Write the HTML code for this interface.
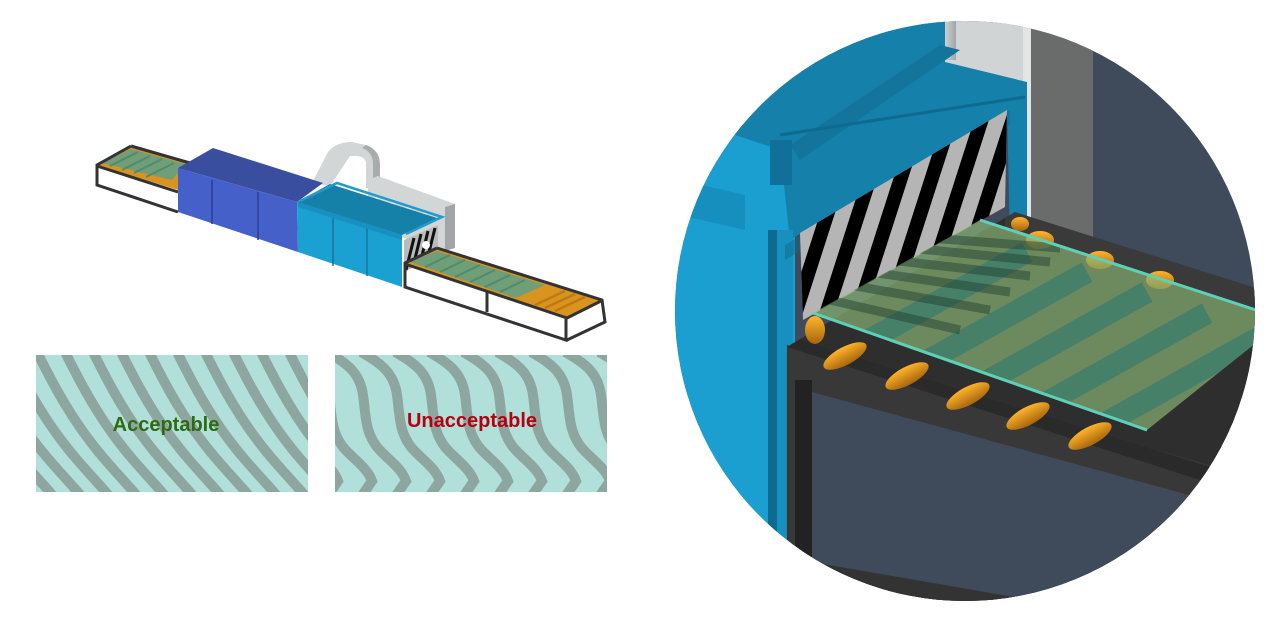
<!DOCTYPE html>
<html><head><meta charset="utf-8"><style>
html,body{margin:0;padding:0;background:#fff;width:1280px;height:628px;overflow:hidden}
svg{display:block}
</style></head><body>
<svg width="1280" height="628" viewBox="0 0 1280 628" xmlns="http://www.w3.org/2000/svg">
<defs>
<pattern id="pa" patternUnits="userSpaceOnUse" x="36" y="355" width="28" height="137">
<g fill="none" stroke="#8ea6a0" stroke-width="10">
<path id="sa" d="M0,-5 C15,25 28,50 48,78 S88,125 102,142"/>
<use href="#sa" x="-28"/><use href="#sa" x="-56"/><use href="#sa" x="-84"/><use href="#sa" x="-112"/><use href="#sa" x="28"/>
</g></pattern>
<pattern id="pu" patternUnits="userSpaceOnUse" x="335" y="355" width="34" height="137">
<g fill="none" stroke="#8ea6a0" stroke-width="10">
<path id="su" d="M-8,-3 C12,8 25,18 28,40 C31,62 30,76 42,92 C52,104 66,112 71,126 L60,142"/>
<use href="#su" x="-34"/><use href="#su" x="-68"/><use href="#su" x="34"/>
</g></pattern>
<clipPath id="cc"><circle cx="965" cy="311" r="290"/></clipPath>
<clipPath id="cs"><polygon points="800,233 1007,110 1005,207 803,320"/></clipPath>
<clipPath id="cg"><polygon points="813,313 980,220 1262,312 1262,338 1147,430"/></clipPath>
<linearGradient id="ro" x1="0" y1="0" x2="0" y2="1"><stop offset="0" stop-color="#ffb52a"/><stop offset="1" stop-color="#a8650e"/></linearGradient>
<linearGradient id="pipe" x1="0" y1="0" x2="1" y2="0"><stop offset="0" stop-color="#9aa0a2"/><stop offset=".5" stop-color="#eef0f0"/><stop offset="1" stop-color="#a0a5a7"/></linearGradient>
</defs>

<rect x="36" y="355" width="272" height="137" fill="#b1dfd9"/>
<rect x="36" y="355" width="272" height="137" fill="url(#pa)"/>
<rect x="335" y="355" width="272" height="137" fill="#b1dfd9"/>
<rect x="335" y="355" width="272" height="137" fill="url(#pu)"/>
<text x="166" y="431" text-anchor="middle" font-family="Liberation Sans, sans-serif" font-weight="bold" font-size="20" fill="#2e6b12">Acceptable</text>
<text x="472" y="427" text-anchor="middle" font-family="Liberation Sans, sans-serif" font-weight="bold" font-size="20" fill="#b5000f">Unacceptable</text>

<polygon points="97,165 131,146 192,163 178,190" fill="#d99420"/>
<polygon points="102,163 131,149 185,164 172,180" fill="#6f9e78"/>
<g stroke="#4f8c6a" stroke-width="2"><line x1="110" y1="166" x2="138" y2="152"/><line x1="122" y1="170" x2="150" y2="156"/><line x1="134" y1="173" x2="162" y2="159"/><line x1="146" y1="177" x2="174" y2="163"/></g>
<g fill="none" stroke="#333" stroke-width="3"><polyline points="131,146 97,165 97,185 178,212"/><line x1="97" y1="166" x2="178" y2="192"/><line x1="131" y1="146" x2="190" y2="163"/></g>
<path d="M312,183 L328,152 Q336,142 352,142 L366,145 Q380,150 380,165 L380,188 L366,188 L366,162 Q364,156 356,156 L350,156 L330,186 Z" fill="#d3d6d6"/>
<path d="M366,145 Q380,150 380,165 L380,188 L373,188 L373,164 Q373,152 362,148Z" fill="#a9acad"/>
<polygon points="368,180 378,176 455,204 455,248 440,252 368,224" fill="#d3d6d6"/>
<polygon points="445,207 455,204 455,248 445,251" fill="#a2a5a6"/>
<g fill="#e8eaea"><ellipse cx="376" cy="204" rx="4" ry="7"/><ellipse cx="392" cy="209" rx="4" ry="7"/><ellipse cx="408" cy="214" rx="4" ry="7"/><ellipse cx="424" cy="219" rx="4" ry="7"/></g>
<polygon points="178,168 213,148 323,183 297,202" fill="#3a4ea0"/>
<polygon points="178,168 297,202 298,252 178,212" fill="#4560c8"/>
<g stroke="#2c3c94" stroke-width="1.5"><line x1="212" y1="180" x2="212" y2="224"/><line x1="258" y1="192" x2="258" y2="240"/></g>
<polygon points="297,202 330,184 437,218 402,235" fill="#1580a8"/>
<polygon points="297,202 402,235 402,287 298,252" fill="#1ba0d2"/>
<g stroke="#14769e" stroke-width="1.5"><line x1="333" y1="215" x2="333" y2="266"/><line x1="367" y1="226" x2="367" y2="276"/></g>
<g fill="none" stroke="#1f9ccd" stroke-width="2.5"><polyline points="300,201 337,183 442,217 406,234"/></g>
<polygon points="298,202 402,235 402,240 298,207" fill="#1890c0"/>
<polygon points="404,240 438,225 438,255 404,272" fill="#bbb"/>
<g stroke="#111" stroke-width="3"><line x1="406" y1="270" x2="414" y2="238"/><line x1="413" y1="267" x2="421" y2="234"/><line x1="420" y1="264" x2="428" y2="231"/><line x1="427" y1="260" x2="435" y2="228"/></g>
<circle cx="426" cy="245" r="4" fill="#fff"/>
<polygon points="405,263 437,248 602,300 567,317" fill="#d99420"/>
<polygon points="410,262 437,251 545,285 516,298" fill="#6f9e78"/>
<g stroke="#4f8c6a" stroke-width="2"><line x1="425" y1="267" x2="450" y2="255"/><line x1="440" y1="272" x2="465" y2="260"/><line x1="455" y1="277" x2="480" y2="265"/><line x1="470" y1="282" x2="495" y2="270"/><line x1="485" y1="287" x2="510" y2="275"/><line x1="500" y1="292" x2="525" y2="280"/></g>
<g stroke="#c07810" stroke-width="2.5"><line x1="545" y1="308" x2="575" y2="294"/><line x1="555" y1="311" x2="585" y2="297"/><line x1="535" y1="305" x2="565" y2="291"/></g>
<g fill="none" stroke="#333" stroke-width="3"><polyline points="437,248 405,263 405,287 566,340 566,318"/><line x1="405" y1="264" x2="567" y2="318"/><polyline points="437,248 602,300 605,322 567,340"/><line x1="487" y1="291" x2="487" y2="312"/><line x1="567" y1="318" x2="603" y2="300"/></g>

<g clip-path="url(#cc)">
<rect x="670" y="15" width="600" height="600" fill="#3f4a5a"/>
<rect x="900" y="15" width="130" height="95" fill="#d0d4d5"/>
<rect x="1027" y="15" width="66" height="225" fill="#6a6c6c"/>
<rect x="1023" y="15" width="8" height="225" fill="#e3e5e5"/>
<rect x="918" y="15" width="38" height="45" fill="url(#pipe)"/>
<rect x="670" y="15" width="125" height="600" fill="#1a9fd0"/>
<polygon points="690,120 800,50 850,15 945,15 945,62 1027,82 1027,240 1010,240 1007,110 790,240 780,150" fill="#1580aa"/>
<polygon points="790,145 940,45 960,50 800,160" fill="#13759c"/>
<line x1="780" y1="135" x2="1025" y2="97" stroke="#0e6a8e" stroke-width="3"/>
<polygon points="680,180 745,195 745,230 680,215" fill="#168fbf"/>
<rect x="770" y="140" width="22" height="45" fill="#10709a"/>
<rect x="768" y="230" width="25" height="330" fill="#1790c0"/>
<rect x="768" y="230" width="9" height="330" fill="#0f6a90"/>
<polygon points="785,245 1010,110 1010,125 785,260" fill="#0f6a90" opacity=".5"/>
<polygon points="800,233 1007,110 1005,207 803,320" fill="#b5b5b5"/>
<g clip-path="url(#cs)" stroke="#000" stroke-width="14">
<line x1="728" y1="330" x2="802" y2="100"/><line x1="759" y1="330" x2="833" y2="100"/><line x1="790" y1="330" x2="864" y2="100"/><line x1="821" y1="330" x2="895" y2="100"/><line x1="852" y1="330" x2="926" y2="100"/><line x1="883" y1="330" x2="957" y2="100"/><line x1="914" y1="330" x2="988" y2="100"/><line x1="945" y1="330" x2="1019" y2="100"/><line x1="976" y1="330" x2="1050" y2="100"/>
</g>
<polygon points="790,345 1010,215 1262,292 1262,470 1150,490" fill="#2e2e2e"/>
<polygon points="1005,218 1015,212 1262,290 1262,310 1005,232" fill="#3a3a3a"/>
<g fill="url(#ro)">
<ellipse cx="1040" cy="240" rx="14" ry="9"/><ellipse cx="1100" cy="260" rx="14" ry="9"/><ellipse cx="1160" cy="280" rx="14" ry="9"/><ellipse cx="1020" cy="224" rx="9" ry="7"/>
</g>
<polygon points="787,345 1262,480 1262,640 787,640" fill="#383838"/>
<polygon points="787,347 800,340 1262,483 1262,500" fill="#2a2a2a"/>
<polygon points="812,392 1262,515 1262,640 812,640" fill="#3f4a5a"/>
<rect x="795" y="380" width="17" height="240" fill="#222"/>
<polygon points="800,560 1262,640 800,640" fill="#333"/>
<g fill="url(#ro)">
<ellipse cx="845" cy="356" rx="24" ry="9" transform="rotate(-28 845 356)"/>
<ellipse cx="907" cy="376" rx="24" ry="9" transform="rotate(-28 907 376)"/>
<ellipse cx="968" cy="396" rx="24" ry="9" transform="rotate(-28 968 396)"/>
<ellipse cx="1028" cy="416" rx="24" ry="9" transform="rotate(-28 1028 416)"/>
<ellipse cx="1090" cy="436" rx="24" ry="9" transform="rotate(-28 1090 436)"/>
<ellipse cx="815" cy="330" rx="10" ry="14"/>
</g>
<polygon points="813,313 980,220 1262,312 1262,338 1147,430" fill="#8ebc78" opacity=".65"/>
<g clip-path="url(#cg)" stroke="#2f7a70" stroke-width="22" opacity=".6">
<line x1="860" y1="345" x2="1027" y2="252"/><line x1="920" y1="365" x2="1087" y2="272"/><line x1="980" y1="385" x2="1147" y2="292"/><line x1="1040" y1="406" x2="1207" y2="313"/><line x1="1100" y1="426" x2="1267" y2="333"/>
</g>
<g clip-path="url(#cg)" stroke="#1e3a30" stroke-width="9" opacity=".45">
<line x1="830" y1="300" x2="960" y2="330"/><line x1="850" y1="285" x2="990" y2="310"/><line x1="870" y1="272" x2="1010" y2="292"/><line x1="890" y1="260" x2="1030" y2="276"/><line x1="910" y1="248" x2="1050" y2="262"/><line x1="930" y1="238" x2="1060" y2="248"/>
</g>
<line x1="813" y1="313" x2="1147" y2="430" stroke="#5fd0b8" stroke-width="3"/>
<line x1="980" y1="220" x2="1262" y2="312" stroke="#5fd0b8" stroke-width="3"/>
</g>
</svg>
</body></html>
